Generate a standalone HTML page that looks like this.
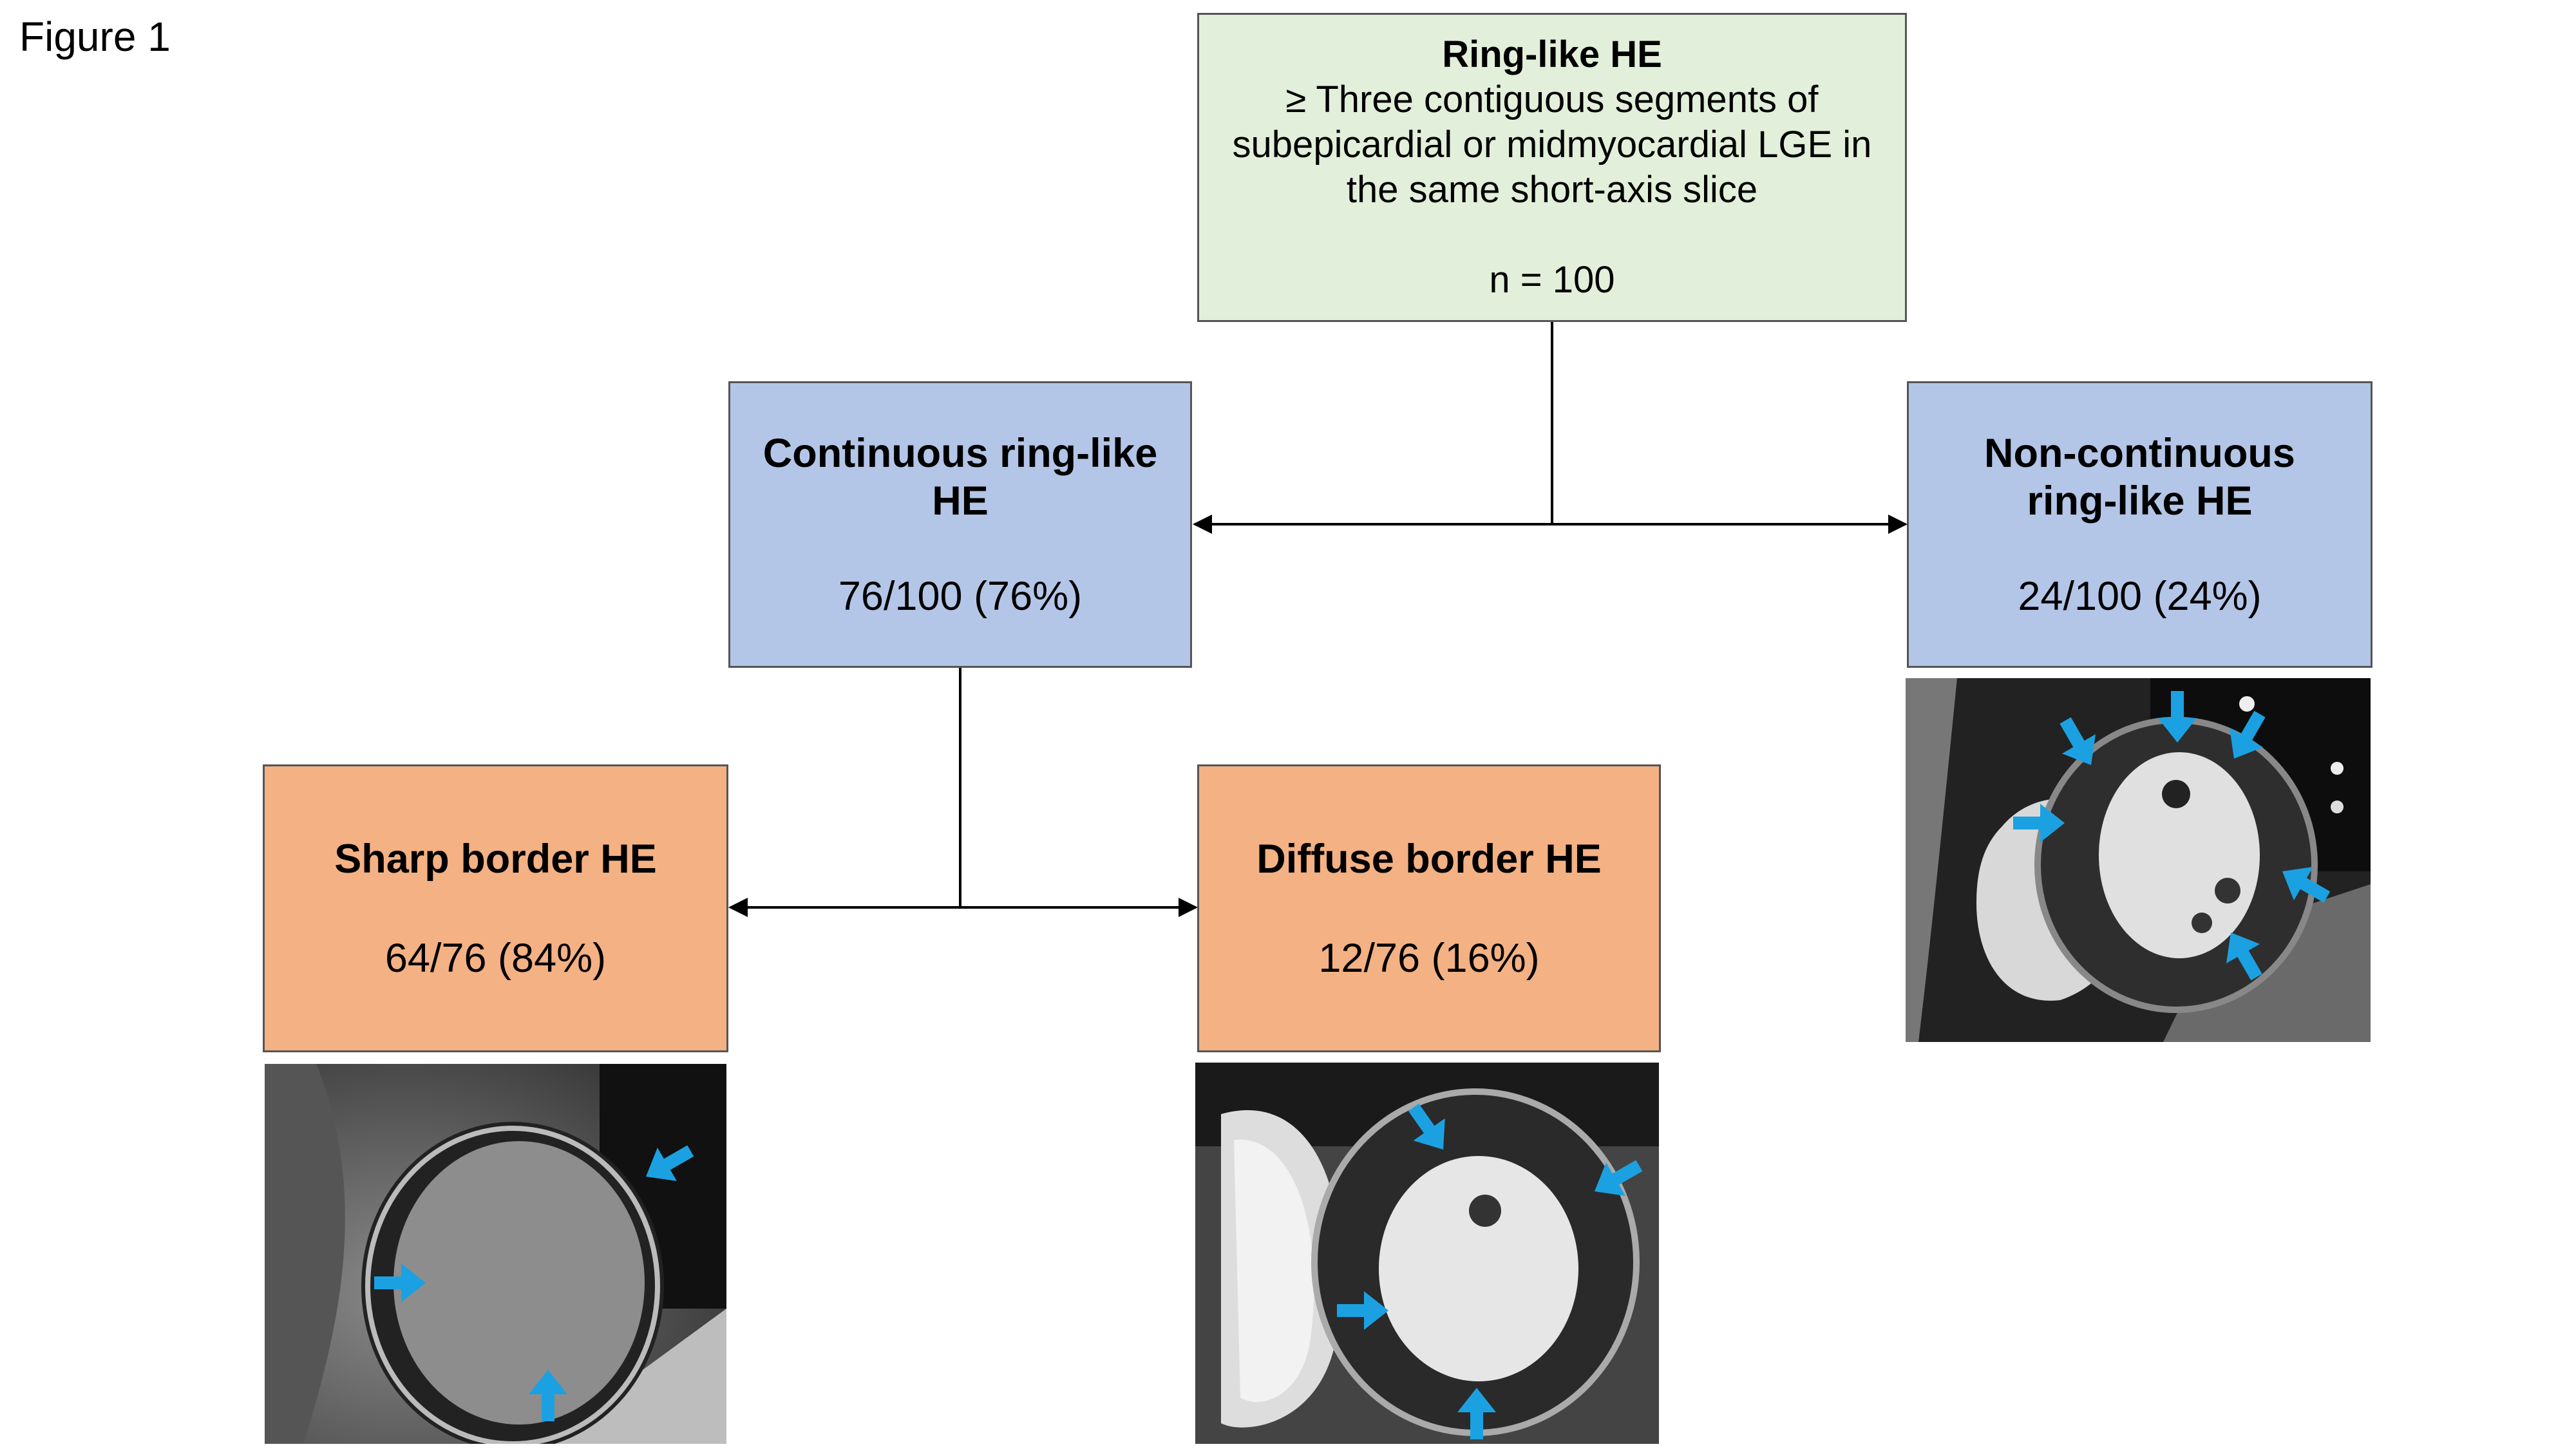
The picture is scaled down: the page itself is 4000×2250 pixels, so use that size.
<!DOCTYPE html>
<html><head><meta charset="utf-8"><style>
html,body{margin:0;padding:0;background:#fff;}
body{width:4000px;height:2250px;position:relative;overflow:hidden;font-family:"Liberation Sans",Arial,sans-serif;color:#000;}
.box{position:absolute;box-sizing:border-box;border:3px solid #555;display:flex;flex-direction:column;justify-content:center;align-items:center;text-align:center;font-size:63px;line-height:74px;}
.g{background:#e2efda;font-size:58px;line-height:70px;}
.b{background:#b4c6e7;}
.o{background:#f4b183;}
.t{font-weight:bold;}
svg.img{position:absolute;}
</style></head><body>
<div style="position:absolute;left:30px;top:20px;font-size:64px;">Figure 1</div>

<div class="box g" style="left:1859px;top:20px;width:1102px;height:480px;">
<div class="t">Ring-like HE</div>
<div>≥ Three contiguous segments of<br>subepicardial or midmyocardial LGE in<br>the same short-axis slice</div>
<div style="height:70px"></div>
<div>n = 100</div>
</div>

<div class="box b" style="left:1131px;top:592px;width:720px;height:445px;">
<div class="t">Continuous ring-like<br>HE</div><div style="height:74px"></div><div>76/100 (76%)</div>
</div>
<div class="box b" style="left:2961px;top:592px;width:723px;height:445px;">
<div class="t">Non-continuous<br>ring-like HE</div><div style="height:74px"></div><div>24/100 (24%)</div>
</div>
<div class="box o" style="left:408px;top:1187px;width:723px;height:447px;">
<div class="t">Sharp border HE</div><div style="height:80px"></div><div>64/76 (84%)</div>
</div>
<div class="box o" style="left:1859px;top:1187px;width:720px;height:447px;">
<div class="t">Diffuse border HE</div><div style="height:80px"></div><div>12/76 (16%)</div>
</div>

<svg style="position:absolute;left:0;top:0" width="4000" height="2250">
<defs>
<marker id="ah" viewBox="0 0 10 10" refX="9" refY="5" markerWidth="30" markerHeight="30" orient="auto" markerUnits="userSpaceOnUse"><path d="M0,0L10,5L0,10z" fill="#000"/></marker></defs>
<g stroke="#000" stroke-width="4" fill="none">
<line x1="2410" y1="500" x2="2410" y2="814"/>
<line x1="2410" y1="814" x2="1855" y2="814" marker-end="url(#ah)"/>
<line x1="2410" y1="814" x2="2959" y2="814" marker-end="url(#ah)"/>
<line x1="1491" y1="1037" x2="1491" y2="1409"/>
<line x1="1491" y1="1409" x2="1134" y2="1409" marker-end="url(#ah)"/>
<line x1="1491" y1="1409" x2="1857" y2="1409" marker-end="url(#ah)"/>
</g>
</svg>

<!-- Sharp image -->
<svg class="img" style="left:411px;top:1652px" width="717" height="590" viewBox="0 0 717 590">
<defs><radialGradient id="s1" cx="0.3" cy="0.6" r="0.8"><stop offset="0" stop-color="#8a8a8a"/><stop offset="1" stop-color="#333"/></radialGradient>
<path id="ar" d="M-80,-10 h42 v-20 l38,30 -38,30 v-20 h-42z" fill="#1ba1e2"/></defs>
<rect width="717" height="590" fill="url(#s1)"/>
<rect x="520" y="0" width="197" height="380" fill="#111"/>
<path d="M430 590 L717 380 L717 590z" fill="#bdbdbd"/>
<path d="M80 0 C160 200 120 400 60 590 L0 590 L0 0z" fill="#555"/>
<ellipse cx="385" cy="345" rx="235" ry="255" fill="#222"/>
<ellipse cx="385" cy="345" rx="225" ry="245" fill="none" stroke="#bbb" stroke-width="8"/>
<ellipse cx="395" cy="340" rx="195" ry="220" fill="#8d8d8d"/>
<use href="#ar" transform="translate(250,340)"/>
<use href="#ar" transform="translate(440,475) rotate(-90)"/>
<use href="#ar" transform="translate(592,175) rotate(150)"/>
</svg>

<!-- Diffuse image -->
<svg class="img" style="left:1856px;top:1650px" width="720" height="592" viewBox="0 0 720 592">
<defs><path id="ar2" d="M-80,-10 h42 v-20 l38,30 -38,30 v-20 h-42z" fill="#1ba1e2"/></defs>
<rect width="720" height="592" fill="#444"/>
<rect x="0" y="0" width="720" height="130" fill="#1a1a1a"/>
<path d="M40 80 C180 40 250 200 220 420 C200 560 80 580 40 560z" fill="#ddd"/>
<path d="M60 120 C150 110 200 250 180 420 C170 520 100 540 70 520z" fill="#f2f2f2"/>
<ellipse cx="435" cy="310" rx="250" ry="265" fill="#2a2a2a"/>
<ellipse cx="435" cy="310" rx="250" ry="265" fill="none" stroke="#aaa" stroke-width="10"/>
<ellipse cx="440" cy="320" rx="155" ry="175" fill="#e6e6e6"/>
<circle cx="450" cy="230" r="25" fill="#333"/>
<use href="#ar2" transform="translate(300,385)"/>
<use href="#ar2" transform="translate(437,505) rotate(-90)"/>
<use href="#ar2" transform="translate(385,135) rotate(55)"/>
<use href="#ar2" transform="translate(620,200) rotate(150)"/>
</svg>

<!-- Non-continuous image -->
<svg class="img" style="left:2959px;top:1053px" width="722" height="565" viewBox="0 0 722 565">
<defs><path id="ar3" d="M-80,-10 h42 v-20 l38,30 -38,30 v-20 h-42z" fill="#1ba1e2"/></defs>
<rect width="722" height="565" fill="#222"/>
<rect x="380" y="0" width="342" height="300" fill="#0d0d0d"/>
<path d="M0 0 L80 0 C60 200 40 400 20 565 L0 565z" fill="#777"/>
<path d="M480 400 L722 320 L722 565 L400 565z" fill="#6a6a6a"/>
<path d="M150 230 C200 170 300 170 330 250 C360 380 330 470 240 500 C150 510 110 430 110 350 C110 300 120 260 150 230z" fill="#d8d8d8"/>
<ellipse cx="420" cy="290" rx="215" ry="225" fill="#2e2e2e"/>
<ellipse cx="420" cy="290" rx="215" ry="225" fill="none" stroke="#888" stroke-width="10"/>
<ellipse cx="425" cy="275" rx="125" ry="160" fill="#e0e0e0"/>
<circle cx="420" cy="180" r="22" fill="#222"/>
<circle cx="500" cy="330" r="20" fill="#333"/>
<circle cx="460" cy="380" r="16" fill="#333"/>
<circle cx="530" cy="40" r="12" fill="#eee"/><circle cx="670" cy="140" r="10" fill="#eee"/><circle cx="670" cy="200" r="10" fill="#ddd"/>
<use href="#ar3" transform="translate(247,225)"/>
<use href="#ar3" transform="translate(422,100) rotate(90)"/>
<use href="#ar3" transform="translate(288,135) rotate(60)"/>
<use href="#ar3" transform="translate(510,125) rotate(120)"/>
<use href="#ar3" transform="translate(585,300) rotate(-150)"/>
<use href="#ar3" transform="translate(505,395) rotate(-120)"/>
</svg>
</body></html>
